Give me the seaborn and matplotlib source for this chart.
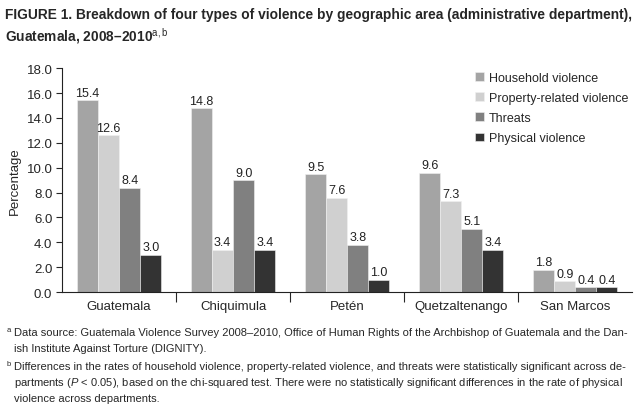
import matplotlib
matplotlib.use("Agg")
import matplotlib.pyplot as plt
import pandas as pd
import seaborn as sns

departments = ["Guatemala", "Chiquimula", "Petén", "Quetzaltenango", "San Marcos"]
violence_types = ["Household violence", "Property-related violence", "Threats", "Physical violence"]
household = [15.4, 14.8, 9.5, 9.6, 1.8]
property_related = [12.6, 3.4, 7.6, 7.3, 0.9]
threats = [8.4, 9.0, 3.8, 5.1, 0.4]
physical = [3.0, 3.4, 1.0, 3.4, 0.4]
y_ticks = [0, 2, 4, 6, 8, 10, 12, 14, 16, 18]

title_lines = ["FIGURE 1. Breakdown of four types of violence by geographic area (administrative department),",
               r"Guatemala, 2008–2010$^{\mathrm{a,b}}$"]
note_a = ["Data source: Guatemala Violence Survey 2008–2010, Office of Human Rights of the Archbishop of Guatemala and the Dan-",
          "ish Institute Against Torture (DIGNITY)."]
note_b = ["Differences in the rates of household violence, property-related violence, and threats were statistically significant across de-",
          r"partments ($P$ < 0.05), based on the chi-squared test. There were no statistically significant differences in the rate of physical",
          "violence across departments."]

greys = ["#a4a4a4", "#d0d0d0", "#808080", "#333333"]

rows = []
for vtype, vals in zip(violence_types, [household, property_related, threats, physical]):
    for dep, v in zip(departments, vals):
        rows.append({"Department": dep, "Type": vtype, "Percentage": v})
df = pd.DataFrame(rows)

sns.set_style("white")
plt.rcParams["font.family"] = ["Liberation Sans", "DejaVu Sans"]
plt.rcParams["mathtext.fontset"] = "custom"
plt.rcParams["mathtext.rm"] = "Liberation Sans"
plt.rcParams["mathtext.it"] = "Liberation Sans:italic"

fig = plt.figure(figsize=(6.4, 4.14), dpi=100)
ax = fig.add_axes([0.097, 0.292, 0.891, 0.541])

sns.barplot(data=df, x="Department", y="Percentage", hue="Type",
            hue_order=violence_types, order=departments, palette=greys,
            width=0.74, saturation=1, edgecolor="#f0f0f0", linewidth=0.4, ax=ax)

for cont in ax.containers:
    ax.bar_label(cont, fmt="%.1f", padding=1, fontsize=9, color="#222222")

ax.set_ylim(0, 18)
ax.set_xlim(-0.5, 4.5)
ax.set_yticks(y_ticks)
ax.set_yticklabels([f"{t:.1f}" for t in y_ticks], fontsize=9.5)
ax.set_xlabel("")
ax.set_ylabel("Percentage", fontsize=9.5, labelpad=4)
ax.tick_params(axis="x", length=0, labelsize=9.5, pad=6)
ax.tick_params(axis="y", length=4, width=0.8, direction="out", left=True, pad=3)
ax.set_xticks([0.5, 1.5, 2.5, 3.5], minor=True)
ax.tick_params(axis="x", which="minor", length=7, width=0.8, direction="out", bottom=True)
for s in ["top", "right"]:
    ax.spines[s].set_visible(False)
for s in ["left", "bottom"]:
    ax.spines[s].set_color("#222222")
    ax.spines[s].set_linewidth(0.8)

ax.legend(loc="upper left", bbox_to_anchor=(0.705, 1.035), frameon=False,
          fontsize=9, handlelength=0.7, handleheight=0.7,
          handletextpad=0.4, labelspacing=0.66)

renderer = fig.canvas.get_renderer()


def fit_size(text, start, max_px, **kw):
    # shrink font until the line fits the target width
    size = start
    t = fig.text(0, 0, text, fontsize=size, **kw)
    while t.get_window_extent(renderer).width > max_px and size > 5:
        size -= 0.1
        t.set_fontsize(size)
    t.remove()
    return size


tsize = fit_size(title_lines[0], 11, 627, fontweight="bold")
fig.text(0.008, 0.955, title_lines[0], fontsize=tsize, fontweight="bold", va="baseline")
fig.text(0.008, 0.90, title_lines[1], fontsize=tsize, fontweight="bold", va="baseline")

fsize = min(fit_size(note_a[0], 8.5, 617), fit_size(note_b[0], 8.5, 617), fit_size(note_b[1], 8.5, 617))
x_txt = 0.022
line_ys = [0.188, 0.150, 0.106, 0.068, 0.030]
for y, line in zip(line_ys, note_a + note_b):
    fig.text(x_txt, y, line, fontsize=fsize, va="baseline")
fig.text(0.010, 0.197, "a", fontsize=5.5, va="baseline")
fig.text(0.010, 0.115, "b", fontsize=5.5, va="baseline")

fig.savefig("out.png", dpi=100)
